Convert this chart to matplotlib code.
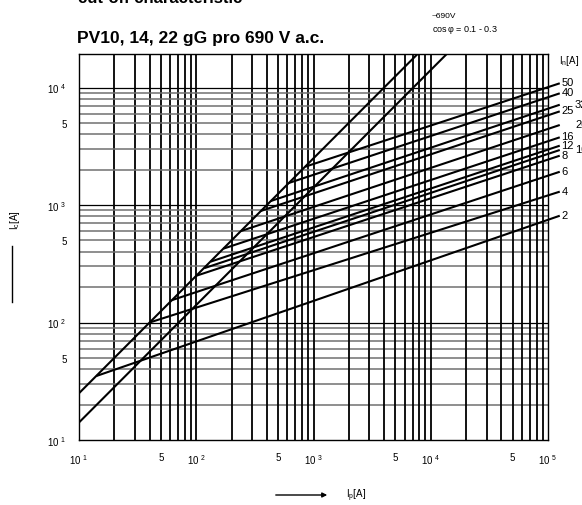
import numpy as np
import matplotlib
matplotlib.use('Agg')
import matplotlib.pyplot as plt
from matplotlib.lines import Line2D
from matplotlib.patches import FancyArrowPatch

# rated currents of the fuse links [A]
rated_currents = [2, 4, 6, 8, 10, 12, 16, 20, 25, 32, 40, 50]
# knee point where each curve leaves the peak line (prospective current, cut-off current)
knee_ip = [14, 40, 62, 100, 117, 133, 170, 240, 355, 430, 615, 850]
knee_ic = [35, 100, 155, 250, 290, 330, 425, 600, 890, 1080, 1540, 2120]
# right-hand end of each curve
end_ip = 1.26e5
end_ic = [811, 1300, 1920, 2630, 2940, 3200, 3770, 4800, 6270, 7140, 8930, 10870]
# peak current lines Ic = k * Ip
peak_factors = [2.5, 1.41]

x_ticks = [10, 50, 100, 500, 1e3, 5e3, 1e4, 5e4, 1e5]
x_labels = ['10 $^{1}$', '5', '10 $^{2}$', '5', '10 $^{3}$', '5', '10 $^{4}$', '5', '10 $^{5}$']
y_ticks = [10, 50, 100, 500, 1e3, 5e3, 1e4]
y_labels = ['10 $^{1}$', '5', '10 $^{2}$', '5', '10 $^{3}$', '5', '10 $^{4}$']

plt.rcParams['font.family'] = ['Liberation Sans', 'DejaVu Sans']
plt.rcParams['mathtext.fontset'] = 'custom'
plt.rcParams['mathtext.rm'] = 'Liberation Sans'
plt.rcParams['mathtext.it'] = 'Liberation Sans'

W, H = 582, 506
fig = plt.figure(figsize=(W / 100, H / 100), dpi=100)
ax = fig.add_axes([79 / W, 1 - 441 / H, (548 - 79) / W, (441 - 55) / H])
ax.set_xscale('log')
ax.set_yscale('log')
ax.set_xlim(10, 1e5)
ax.set_ylim(10, 19300)

# grid: heavy black verticals, mixed grey/black horizontals
for dec in [10, 100, 1000, 10000]:
    for m in range(1, 10):
        v = dec * m
        if 10 < v < 1e5:
            ax.axvline(v, color='black', lw=1.3, zorder=1)
        if 10 < v < 19300:
            if m == 1:
                ax.axhline(v, color='black', lw=0.9, zorder=1)
            else:
                ax.axhline(v, color='#707070', lw=1.1, zorder=1)

# peak lines
xx = np.array([10, 1e5])
for k in peak_factors:
    ax.plot(xx, k * xx, color='black', lw=1.5, zorder=3)

# cut-off curves
for In, x0, y0, y1 in zip(rated_currents, knee_ip, knee_ic, end_ic):
    ax.plot([x0, end_ip], [y0, y1], color='black', lw=1.5, zorder=3,
            clip_on=False, solid_capstyle='butt')
    dx = 1.7e5 if In in (10, 20, 32) else 1.3e5
    ax.text(dx, y1 * 1.02, str(In), fontsize=8, ha='left', va='center',
            clip_on=False)

for s in ax.spines.values():
    s.set_color('black')
    s.set_linewidth(1.0)
    s.set_zorder(4)

ax.set_xticks(x_ticks)
ax.set_xticklabels(x_labels, fontsize=7)
ax.set_yticks(y_ticks)
ax.set_yticklabels(y_labels, fontsize=7)
ax.minorticks_off()
ax.tick_params(axis='x', length=0, pad=9)
ax.tick_params(axis='y', length=0, pad=9)


def ftxt(x, y, s, **kw):
    fig.text(x / W, 1 - y / H, s, **kw)


# titles (first line sits mostly above the cropped top edge)
ftxt(78, 3, 'cut-off characteristic', fontsize=12, fontweight='bold',
     va='baseline', ha='left')
ftxt(77, 38, 'PV10, 14, 22 gG pro 690 V a.c.', fontsize=12.5,
     fontweight='bold', va='center', ha='left')
ftxt(432, 17, '~690V', fontsize=6, va='center', ha='left')
ftxt(432, 30, 'cos$\\,\\varphi$ = 0.1 - 0.3', fontsize=6.5, va='center', ha='left')
ftxt(559, 61, 'I$_n$[A]', fontsize=7, va='center', ha='left')

# axis labels
ftxt(15, 220, 'I$_c$[A]', fontsize=7, rotation=90, va='center', ha='center')
fig.add_artist(Line2D([12 / W, 12 / W], [1 - 247 / H, 1 - 303 / H],
                      color='black', lw=1.0))
fig.add_artist(FancyArrowPatch((273 / W, 1 - 496 / H), (330 / W, 1 - 496 / H),
                               transform=fig.transFigure, arrowstyle='-|>',
                               mutation_scale=7, color='black', lw=1.0))
ftxt(346, 496, 'I$_p$[A]', fontsize=7, va='center', ha='left')

fig.savefig('out.png', dpi=100, facecolor='white')
